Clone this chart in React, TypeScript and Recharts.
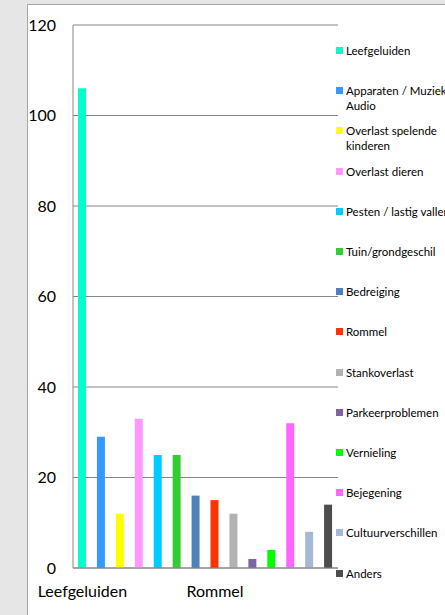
import React from 'react';
import { BarChart, Bar, XAxis, YAxis, CartesianGrid, Cell } from 'recharts';

const categories = [
  'Leefgeluiden',
  'Apparaten / Muziek Audio',
  'Overlast spelende kinderen',
  'Overlast dieren',
  'Pesten / lastig vallen',
  'Tuin/grondgeschil',
  'Bedreiging',
  'Rommel',
  'Stankoverlast',
  'Parkeerproblemen',
  'Vernieling',
  'Bejegening',
  'Cultuurverschillen',
  'Anders',
];

const values = [106, 29, 12, 33, 25, 25, 16, 15, 12, 2, 4, 32, 8, 14];

const colors = [
  '#00FFCC', '#3399FF', '#FFFF00', '#FF99FF', '#00CCFF', '#33CC33', '#4F81BD',
  '#FF3300', '#B2B2B2', '#8064A2', '#00FF00', '#FF66FF', '#A6B8D8', '#4D4D4D',
];

const legendLines = [
  ['Leefgeluiden'],
  ['Apparaten / Muziek', 'Audio'],
  ['Overlast spelende', 'kinderen'],
  ['Overlast dieren'],
  ['Pesten / lastig vallen'],
  ['Tuin/grondgeschil'],
  ['Bedreiging'],
  ['Rommel'],
  ['Stankoverlast'],
  ['Parkeerproblemen'],
  ['Vernieling'],
  ['Bejegening'],
  ['Cultuurverschillen'],
  ['Anders'],
];

const yTicks = [0, 20, 40, 60, 80, 100, 120];

const data = categories.map((name, i) => ({ name, value: values[i] }));

const FONT = 'Lato, "Open Sans", sans-serif';

const LegendBlock = () => (
  <div style={{ position: 'absolute', left: 334, top: 0, width: 111, height: 615, fontFamily: FONT }}>
    {legendLines.map((lines, i) => (
      <div
        key={i}
        style={{
          position: 'absolute',
          left: 0,
          top: 43 + i * 40.2,
          whiteSpace: 'nowrap',
          fontSize: 11.5,
          lineHeight: '15px',
          color: '#000',
        }}
      >
        <span
          style={{
            position: 'absolute',
            left: 2,
            top: 4,
            width: 7,
            height: 7,
            background: colors[i],
          }}
        />
        <div style={{ marginLeft: 12 }}>
          {lines.map((l, j) => (
            <div key={j}>{l}</div>
          ))}
        </div>
      </div>
    ))}
  </div>
);

export default function App() {
  return (
    <div
      style={{
        position: 'absolute',
        left: 0,
        top: 0,
        width: 445,
        height: 615,
        background: '#E6E6E6',
        overflow: 'hidden',
      }}
    >
      <div
        style={{
          position: 'absolute',
          left: 27,
          top: 4,
          width: 430,
          height: 630,
          background: '#FFFFFF',
          border: '1px solid #A6A6A6',
          boxSizing: 'border-box',
        }}
      />
      <div style={{ position: 'absolute', left: 0, top: 0 }}>
        <BarChart
          width={445}
          height={615}
          data={data}
          margin={{ top: 25, right: 107, bottom: 17, left: 0 }}
        >
          <CartesianGrid vertical={false} stroke="#868686" strokeWidth={1} />
          <XAxis
            dataKey="name"
            interval={6}
            axisLine={{ stroke: '#868686' }}
            tickLine={false}
            tickSize={0}
            tickMargin={18}
            height={30}
            tick={{ fontSize: 16, fill: '#000', fontFamily: FONT }}
          />
          <YAxis
            domain={[0, 120]}
            ticks={yTicks}
            width={73}
            axisLine={{ stroke: '#868686' }}
            tickLine={false}
            tickSize={0}
            tickMargin={17}
            tick={{ fontSize: 16, fill: '#000', fontFamily: FONT }}
          />
          <Bar dataKey="value" isAnimationActive={false} barSize={8}>
            {data.map((d, i) => (
              <Cell key={d.name} fill={colors[i]} />
            ))}
          </Bar>
        </BarChart>
      </div>
      <LegendBlock />
    </div>
  );
}
